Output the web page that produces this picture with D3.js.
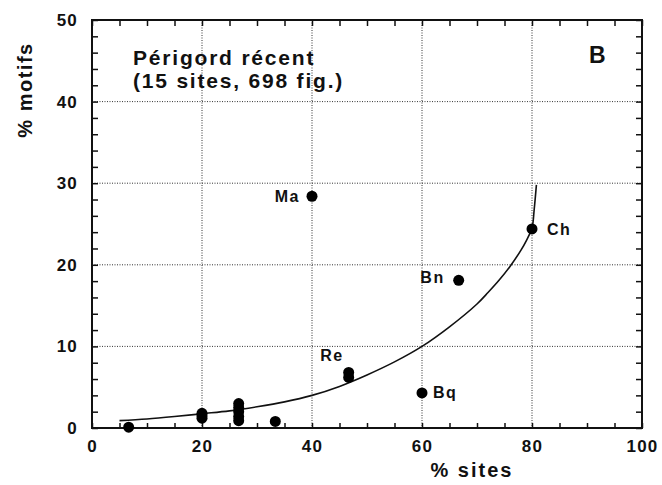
<!DOCTYPE html>
<html>
<head>
<meta charset="utf-8">
<script src="https://cdn.jsdelivr.net/npm/d3@7"></script>
<style>
  html, body { margin: 0; padding: 0; background: #fff; }
  svg { display: block; }
  text { font-family: "Liberation Sans", Arial, Helvetica, sans-serif; font-weight: bold; fill: #111; }
</style>
</head>
<body>
<div id="chart"></div>
<script>
// ---- data ----
const siteX  = [6.67, 20, 20, 20, 26.67, 26.67, 26.67, 26.67, 26.67, 33.33, 40, 46.67, 46.67, 60, 66.67, 80];
const motifY = [0.1, 1.8, 1.5, 1.2, 3.0, 2.5, 2.0, 1.4, 0.9, 0.8, 28.4, 6.8, 6.2, 4.3, 18.1, 24.4];
const pointNames = ["", "", "", "", "", "", "", "", "", "", "Ma", "Re", "", "Bq", "Bn", "Ch"];
const curveX = [5, 10, 15, 20, 25, 30, 35, 40, 45, 50, 55, 60, 65, 70, 72, 74, 76, 78, 79, 80, 80.4, 80.8];
const curveY = [0.9, 1.1, 1.4, 1.75, 2.1, 2.6, 3.2, 4.0, 5.1, 6.5, 8.1, 10.0, 12.4, 15.2, 16.6, 18.1, 19.8, 21.8, 23.0, 24.5, 26.8, 29.8];
const xTickLabels = [0, 20, 40, 60, 80, 100];
const yTickLabels = [0, 10, 20, 30, 40, 50];
const titleLines = ["Périgord récent", "(15 sites, 698 fig.)"];
const panelLetter = "B";
const xTitle = "% sites";
const yTitle = "% motifs";

// ---- layout ----
const W = 662, H = 485;
const m = { left: 92, right: 20, top: 20, bottom: 57 };
const pw = W - m.left - m.right, ph = H - m.top - m.bottom;

const svg = d3.select("#chart").append("svg").attr("width", W).attr("height", H);
svg.append("rect").attr("width", W).attr("height", H).attr("fill", "#fff");
const g = svg.append("g").attr("transform", `translate(${m.left},${m.top})`);

const x = d3.scaleLinear().domain([0, 100]).range([0, pw]);
const y = d3.scaleLinear().domain([0, 50]).range([ph, 0]);

// grid
const grid = g.append("g").attr("stroke", "#333").attr("stroke-width", 1).attr("stroke-dasharray", "1,1.5");
grid.selectAll(".gx").data(xTickLabels.filter(v => v > 0 && v < 100)).join("line")
  .attr("x1", d => x(d)).attr("x2", d => x(d)).attr("y1", 0).attr("y2", ph);
grid.selectAll(".gy").data(yTickLabels.filter(v => v > 0 && v < 50)).join("line")
  .attr("y1", d => y(d)).attr("y2", d => y(d)).attr("x1", 0).attr("x2", pw);

// minor inward ticks
function styleAxis(sel) {
  sel.select(".domain").remove();
  sel.selectAll(".tick line").attr("stroke", "#111").attr("stroke-width", 1.5);
}
const xMinor = d3.range(0, 101, 5), yMinor = d3.range(0, 51, 2);
g.append("g").attr("transform", `translate(0,${ph})`)
  .call(d3.axisBottom(x).tickValues(xMinor).tickSize(-5).tickFormat("")).call(styleAxis);
g.append("g")
  .call(d3.axisTop(x).tickValues(xMinor).tickSize(-6).tickFormat("")).call(styleAxis);
g.append("g")
  .call(d3.axisLeft(y).tickValues(yMinor).tickSize(-6).tickFormat("")).call(styleAxis);
g.append("g").attr("transform", `translate(${pw},0)`)
  .call(d3.axisRight(y).tickValues(yMinor).tickSize(-6).tickFormat("")).call(styleAxis);

// tick labels
const xl = g.append("g").attr("transform", `translate(0,${ph})`)
  .call(d3.axisBottom(x).tickValues(xTickLabels).tickSize(0).tickPadding(12).tickFormat(d3.format("d")));
xl.select(".domain").remove();
xl.selectAll("text").attr("font-size", 17).attr("letter-spacing", 1.2)
  .style("font-family", "'Liberation Sans', Arial, sans-serif").style("font-weight", "bold").attr("fill", "#111");
const yl = g.append("g")
  .call(d3.axisLeft(y).tickValues(yTickLabels).tickSize(0).tickPadding(14).tickFormat(d3.format("d")));
yl.select(".domain").remove();
yl.selectAll("text").attr("font-size", 17).attr("letter-spacing", 1.2)
  .style("font-family", "'Liberation Sans', Arial, sans-serif").style("font-weight", "bold").attr("fill", "#111");

// frame
g.append("rect").attr("width", pw).attr("height", ph)
  .attr("fill", "none").attr("stroke", "#111").attr("stroke-width", 2);

// curve
const curve = curveX.map((v, i) => [v, curveY[i]]);
g.append("path").datum(curve)
  .attr("fill", "none").attr("stroke", "#111").attr("stroke-width", 1.6)
  .attr("d", d3.line().x(d => x(d[0])).y(d => y(d[1])).curve(d3.curveCatmullRom.alpha(0.5)));

// points
const pts = siteX.map((v, i) => ({ x: v, y: motifY[i], name: pointNames[i] }));
g.selectAll("circle.pt").data(pts).join("circle").attr("class", "pt")
  .attr("cx", d => x(d.x)).attr("cy", d => y(d.y)).attr("r", 5.5).attr("fill", "#000");

// point labels
const labelOffsets = {
  Ma: { dx: -12, dy: 0, anchor: "end" },
  Re: { dx: -5, dy: -17, anchor: "end" },
  Bq: { dx: 11, dy: -1, anchor: "start" },
  Bn: { dx: -14, dy: -3, anchor: "end" },
  Ch: { dx: 15, dy: 0, anchor: "start" }
};
g.selectAll("text.lab").data(pts.filter(d => d.name)).join("text").attr("class", "lab")
  .attr("x", d => x(d.x) + labelOffsets[d.name].dx)
  .attr("y", d => y(d.y) + labelOffsets[d.name].dy)
  .attr("dy", "0.36em")
  .attr("text-anchor", d => labelOffsets[d.name].anchor)
  .attr("font-size", 16).attr("letter-spacing", 1.5)
  .text(d => d.name);

// title lines
g.selectAll("text.title").data(titleLines).join("text").attr("class", "title")
  .attr("x", 133 - m.left).attr("y", (d, i) => 65 - m.top + i * 22.5)
  .attr("font-size", 21).attr("letter-spacing", 1.8)
  .text(d => d);

// panel letter
g.append("text").attr("x", 589 - m.left).attr("y", 63 - m.top)
  .attr("font-size", 23).text(panelLetter);

// axis titles
svg.append("text").attr("x", 472).attr("y", 477).attr("text-anchor", "middle")
  .attr("font-size", 20).attr("letter-spacing", 2).text(xTitle);
svg.append("text").attr("transform", "translate(32,90) rotate(-90)").attr("text-anchor", "middle")
  .attr("font-size", 20).attr("letter-spacing", 1.5).text(yTitle);
</script>
</body>
</html>
